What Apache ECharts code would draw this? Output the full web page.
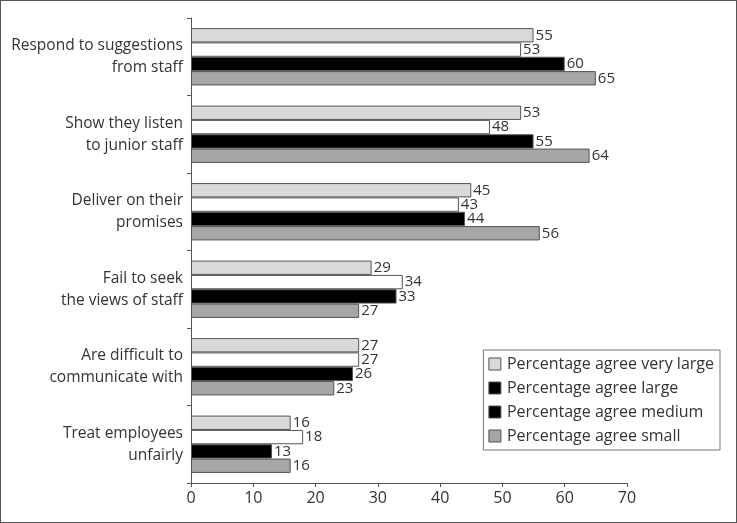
<!DOCTYPE html>
<html>
<head>
<meta charset="utf-8">
<script src="https://cdn.jsdelivr.net/npm/echarts@6/dist/echarts.min.js"></script>
<style>
  html, body { margin: 0; padding: 0; background: #fff; }
  #chart { width: 735px; height: 521px; border: 1px solid #555; }
</style>
</head>
<body>
<div id="chart"></div>
<script>
// categories, top to bottom
const categories = [
  'Respond to suggestions\nfrom staff',
  'Show they listen\nto junior staff',
  'Deliver on their\npromises',
  'Fail to seek\nthe views of staff',
  'Are difficult to\ncommunicate with',
  'Treat employees\nunfairly'
]
const seriesNames = [
  'Percentage agree very large',
  'Percentage agree large',
  'Percentage agree medium',
  'Percentage agree small'
]
const veryLarge = [55, 53, 45, 29, 27, 16]
const large = [53, 48, 43, 34, 27, 18]
const medium = [60, 55, 44, 33, 26, 13]
const small = [65, 64, 56, 27, 23, 16]
const xTicks = [0, 10, 20, 30, 40, 50, 60, 70]

const colors = ['#d9d9d9', '#ffffff', '#000000', '#a6a6a6']
// legend swatch for "large" is black in the original figure
const legendColors = ['#d9d9d9', '#000000', '#000000', '#a6a6a6']
const font = '"Open Sans", "Noto Sans", sans-serif'

const chart = echarts.init(document.getElementById('chart'))

const values = [veryLarge, large, medium, small]
const series = values.map((v, i) => ({
  name: seriesNames[i],
  type: 'bar',
  data: v,
  barGap: '0%',
  barCategoryGap: '26%',
  itemStyle: { color: colors[i], borderColor: '#555', borderWidth: 1 },
  label: {
    show: true,
    position: 'right',
    distance: 2,
    color: '#333',
    fontFamily: font,
    fontSize: 15
  }
}))

chart.setOption({
  animation: false,
  grid: { left: 190, right: 109, top: 17, bottom: 39 },
  legend: {
    orient: 'vertical',
    right: 16,
    top: 349,
    itemWidth: 12,
    itemHeight: 12,
    itemGap: 8,
    padding: [6, 6, 6, 5],
    borderColor: '#777',
    borderWidth: 1,
    borderRadius: 0,
    textStyle: { color: '#333', fontFamily: font, fontSize: 16, padding: [0, 0, 0, 1] },
    data: seriesNames.map((n, i) => ({
      name: n,
      icon: 'rect',
      itemStyle: { color: legendColors[i], borderColor: '#555', borderWidth: 1 }
    }))
  },
  xAxis: {
    type: 'value',
    min: xTicks[0],
    max: xTicks[xTicks.length - 1],
    interval: 10,
    axisLine: { show: true, lineStyle: { color: '#555' } },
    axisTick: { show: true, length: 4, lineStyle: { color: '#555' } },
    splitLine: { show: false },
    axisLabel: { color: '#333', fontFamily: font, fontSize: 16, margin: 7 }
  },
  yAxis: {
    type: 'category',
    data: categories,
    inverse: true,
    axisLine: { show: true, lineStyle: { color: '#555' } },
    axisTick: { show: true, length: 4, lineStyle: { color: '#555' } },
    axisLabel: {
      color: '#333',
      fontFamily: font,
      fontSize: 15.5,
      lineHeight: 22,
      margin: 8,
      align: 'right'
    }
  },
  series: series
})
</script>
</body>
</html>
